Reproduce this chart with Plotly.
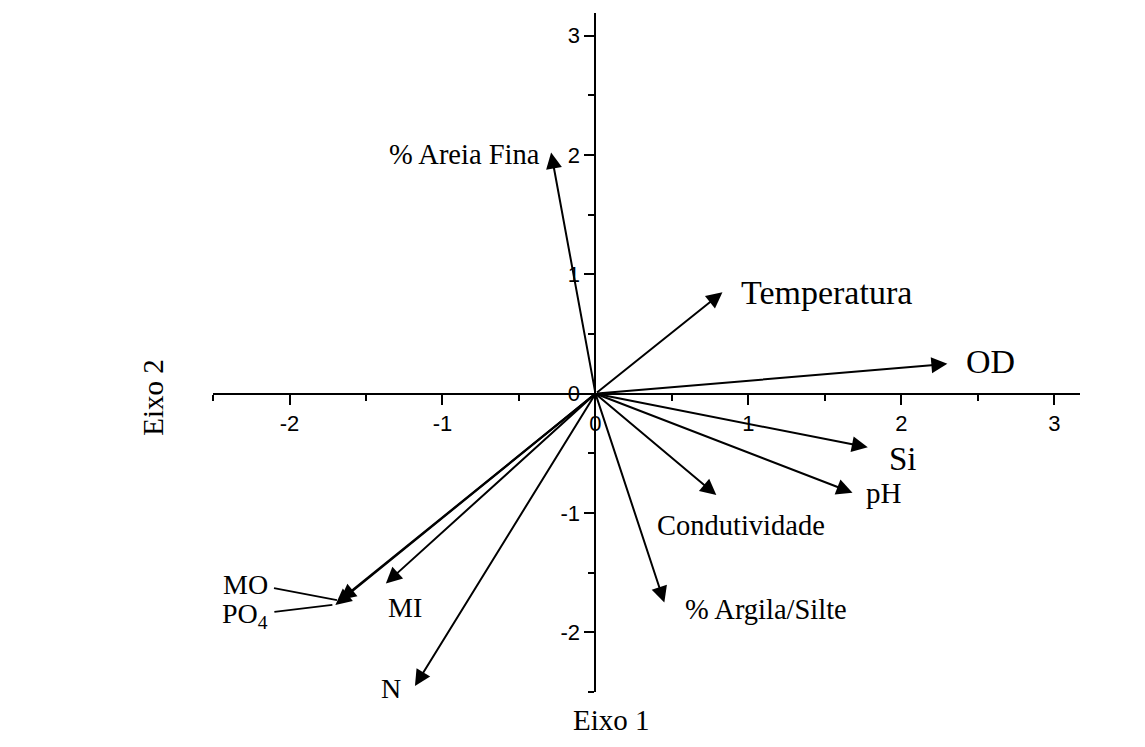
import plotly.graph_objects as go

# PCA loadings (Eixo 1, Eixo 2)
variables = ["% Areia Fina", "Temperatura", "OD", "Si", "pH", "Condutividade",
             "% Argila/Silte", "MI", "N", "MO", "PO<sub>4</sub>"]
eixo1 = [-0.29, 0.83, 2.30, 1.78, 1.68, 0.79, 0.45, -1.37, -1.18, -1.67, -1.70]
eixo2 = [2.02, 0.85, 0.25, -0.45, -0.83, -0.85, -1.75, -1.59, -2.45, -1.73, -1.77]

x_ticks = [-2, -1, 0, 1, 2, 3]
y_ticks = [-2, -1, 0, 1, 2, 3]

# label placement (pixel offsets from arrow tip) and font sizes
label_style = {
    "% Areia Fina": dict(xanchor="right", xshift=-9, yshift=-2, size=28.5),
    "Temperatura": dict(xanchor="left", xshift=17, yshift=0, size=34),
    "OD": dict(xanchor="left", xshift=17, yshift=2, size=34),
    "Si": dict(xanchor="left", xshift=19, yshift=-12, size=33),
    "pH": dict(xanchor="left", xshift=11, yshift=0, size=29),
    "Condutividade": dict(xanchor="center", xshift=25, yshift=-30, size=28.5),
    "% Argila/Silte": dict(xanchor="left", xshift=19, yshift=-7, size=28.5),
    "MI": dict(xanchor="left", xshift=0, yshift=-24, size=28),
    "N": dict(xanchor="right", xshift=-12, yshift=-2, size=28),
    "MO": dict(xanchor="right", xshift=-70, yshift=16, size=28),
    "PO<sub>4</sub>": dict(xanchor="right", xshift=-65, yshift=-11, size=28),
}

XR = [-2.5, 3.167]
YR = [-2.5, 3.19]
# page body has an 8px margin, so the figure is drawn 8px in from the corner
W, H = 1137, 739
ML, MR, MT, MB = 205, 65, 5, 55

fig = go.Figure()
serif = "Liberation Serif, Times New Roman, serif"

fig.add_trace(go.Scatter(x=[0], y=[0], mode="markers", marker=dict(opacity=0),
                         showlegend=False, hoverinfo="skip"))

annotations = []
for name, x, y in zip(variables, eixo1, eixo2):
    annotations.append(dict(
        x=x, y=y, ax=0, ay=0, xref="x", yref="y", axref="x", ayref="y",
        text="", showarrow=True, arrowhead=2, arrowsize=1.6, arrowwidth=2,
        arrowcolor="black", standoff=0, startstandoff=0))
    st = label_style[name]
    annotations.append(dict(
        x=x, y=y, xref="x", yref="y", text=name, showarrow=False,
        xanchor=st["xanchor"], yanchor="middle", xshift=st["xshift"], yshift=st["yshift"],
        font=dict(family=serif, size=st["size"], color="black")))

# leader lines for MO and PO4 labels (pixel -> data conversion)
pw = W - ML - MR
ph = H - MT - MB
sx = pw / (XR[1] - XR[0])
sy = ph / (YR[1] - YR[0])
for name, dx, dy in [("MO", -66, 12), ("PO<sub>4</sub>", -61, -7)]:
    i = variables.index(name)
    x0, y0 = eixo1[i], eixo2[i]
    fig.add_trace(go.Scatter(x=[x0 - 3 / sx, x0 + dx / sx], y=[y0, y0 + dy / sy],
                             mode="lines", line=dict(color="black", width=1.9),
                             showlegend=False, hoverinfo="skip"))

# axis titles
annotations.append(dict(x=0.0, y=0, xref="x", yref="paper", xshift=16, yshift=-28,
                        text="Eixo 1", showarrow=False, xanchor="center", yanchor="middle",
                        font=dict(family=serif, size=29, color="black")))
annotations.append(dict(x=-2.5, y=0.0, xref="x", yref="y", xshift=-60, yshift=-4,
                        text="Eixo 2", textangle=-90, showarrow=False,
                        xanchor="center", yanchor="middle",
                        font=dict(family=serif, size=29, color="black")))

tickfont = dict(family="Liberation Sans, Arial, sans-serif", size=22, color="black")
axis_common = dict(showline=True, linecolor="black", linewidth=2, showgrid=False,
                   zeroline=False, ticks="outside", ticklen=10, tickwidth=2,
                   tickcolor="black", tickfont=tickfont,
                   minor=dict(ticks="outside", ticklen=6, tickwidth=2, tickcolor="black",
                              dtick=0.5, tick0=0, showgrid=False))
fig.update_layout(
    width=W, height=H,
    margin=dict(l=ML, r=MR, t=MT, b=MB),
    plot_bgcolor="white", paper_bgcolor="white",
    showlegend=False,
    annotations=annotations,
    xaxis=dict(range=XR, anchor="free", position=(0 - YR[0]) / (YR[1] - YR[0]),
               tickvals=x_ticks, ticktext=[str(v) for v in x_ticks], **axis_common),
    yaxis=dict(range=YR, anchor="free", position=(0 - XR[0]) / (XR[1] - XR[0]),
               tickvals=y_ticks, ticktext=[str(v) for v in y_ticks], **axis_common),
)

fig.write_html("out.html")
